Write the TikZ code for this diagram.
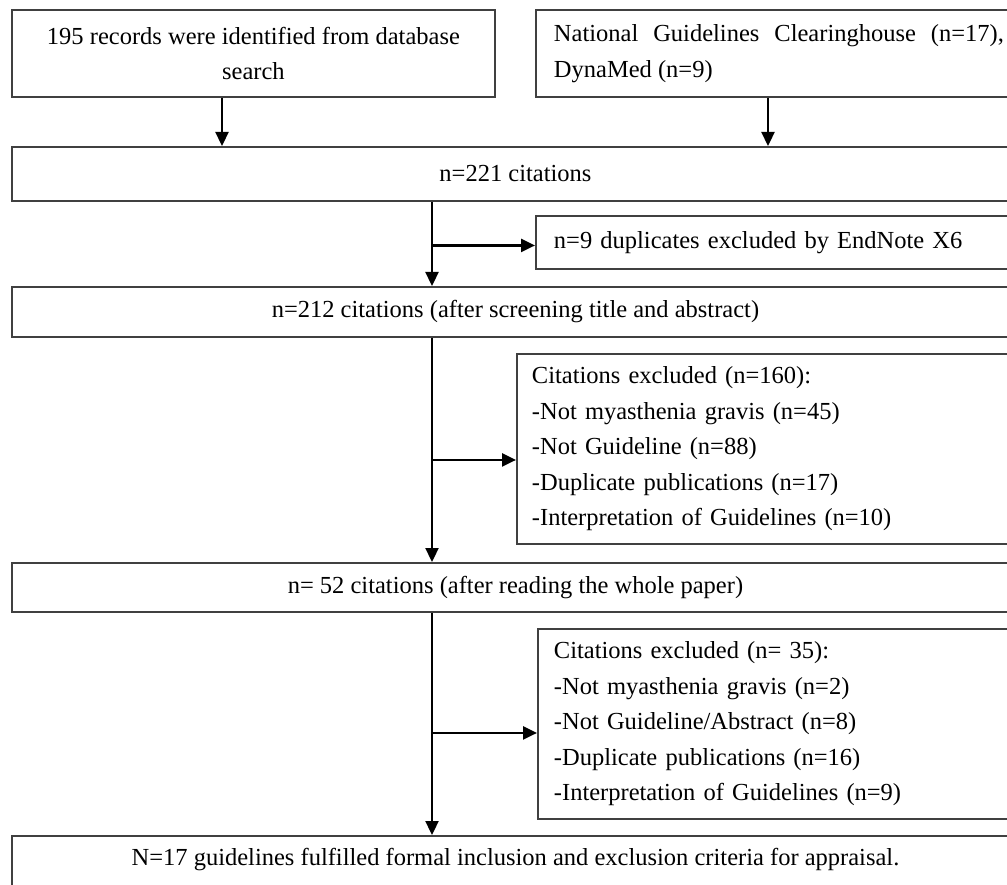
\documentclass[tikz,border=0pt]{standalone}
\usepackage{fontspec}
\setmainfont{Liberation Serif}
\usetikzlibrary{arrows.meta,positioning}
\tikzset{
  box/.style={rectangle, draw=black!75, line width=1.9pt, inner sep=0pt,
              anchor=north west, font=\fontsize{24.5}{35.5}\selectfont},
  sidebox/.style={box, align=left},
  flowarrow/.style={-{Triangle[length=14pt,width=13pt]}, line width=2.3pt},
}

\begin{document}
\begin{tikzpicture}[x=1pt,y=-1pt]
  \useasboundingbox (0,0) rectangle (1007,885);
  \clip (0,0) rectangle (1007,885);
  % sources
  \node[box, minimum width=483pt, minimum height=87pt, align=center] (rec) at (11,9)
    {195 records were identified from database\\search};
  \node[sidebox, minimum height=87pt, text width=450pt, inner xsep=18pt, align=justify] (dbase) at (535,9)
    {National Guidelines Clearinghouse (n=17), \mbox{DynaMed} (n=9)};
  % main column
  \node[box, minimum width=1007pt, minimum height=54pt] (cit221) at (11,146) {n=221 citations};
  \node[box, minimum width=1007pt, minimum height=50pt] (cit212) at (11,286)
    {n=212 citations (after screening title and abstract)};
  \node[box, minimum width=1007pt, minimum height=49pt] (cit52) at (11,562)
    {n= 52 citations (after reading the whole paper)};
  \node[box, minimum width=1007pt, text height=30pt, text depth=30pt] (final) at (11,835)
    {N=17 guidelines fulfilled formal inclusion and exclusion criteria for appraisal.};
  % exclusions
  \node[sidebox, minimum height=53pt, text width=470pt, inner xsep=18pt] (dup) at (535,215)
    {n=9 duplicates excluded by EndNote X6};
  \node[sidebox, minimum height=190pt, text width=480pt, inner xsep=15pt] (exc160) at (516,353)
    {Citations excluded (n=160):\\-Not myasthenia gravis (n=45)\\-Not Guideline (n=88)\\
     -Duplicate publications (n=17)\\-Interpretation of Guidelines (n=10)};
  \node[sidebox, minimum height=190pt, text width=470pt, inner xsep=16pt] (exc35) at (537,628)
    {Citations excluded (n= 35):\\-Not myasthenia gravis (n=2)\\-Not Guideline/Abstract (n=8)\\
     -Duplicate publications (n=16)\\-Interpretation of Guidelines (n=9)};

  % arrows
  \coordinate (spine) at (432,0);
  \draw[flowarrow] ([xshift=211pt]rec.south west) -- ([xshift=211pt]rec.south west |- cit221.north);
  \draw[flowarrow] ([xshift=233pt]dbase.south west) -- ([xshift=233pt]dbase.south west |- cit221.north);
  \draw[flowarrow] (cit221.south -| spine) -- (cit212.north -| spine);
  \draw[flowarrow] ([yshift=-3pt]dup.west -| spine) -- ([yshift=-3pt]dup.west);
  \draw[flowarrow] (cit212.south -| spine) -- (cit52.north -| spine);
  \draw[flowarrow] ([yshift=-11pt]exc160.west -| spine) -- ([yshift=-11pt]exc160.west);
  \draw[flowarrow] (cit52.south -| spine) -- (final.north -| spine);
  \draw[flowarrow] ([yshift=-9pt]exc35.west -| spine) -- ([yshift=-9pt]exc35.west);
\end{tikzpicture}
\end{document}
